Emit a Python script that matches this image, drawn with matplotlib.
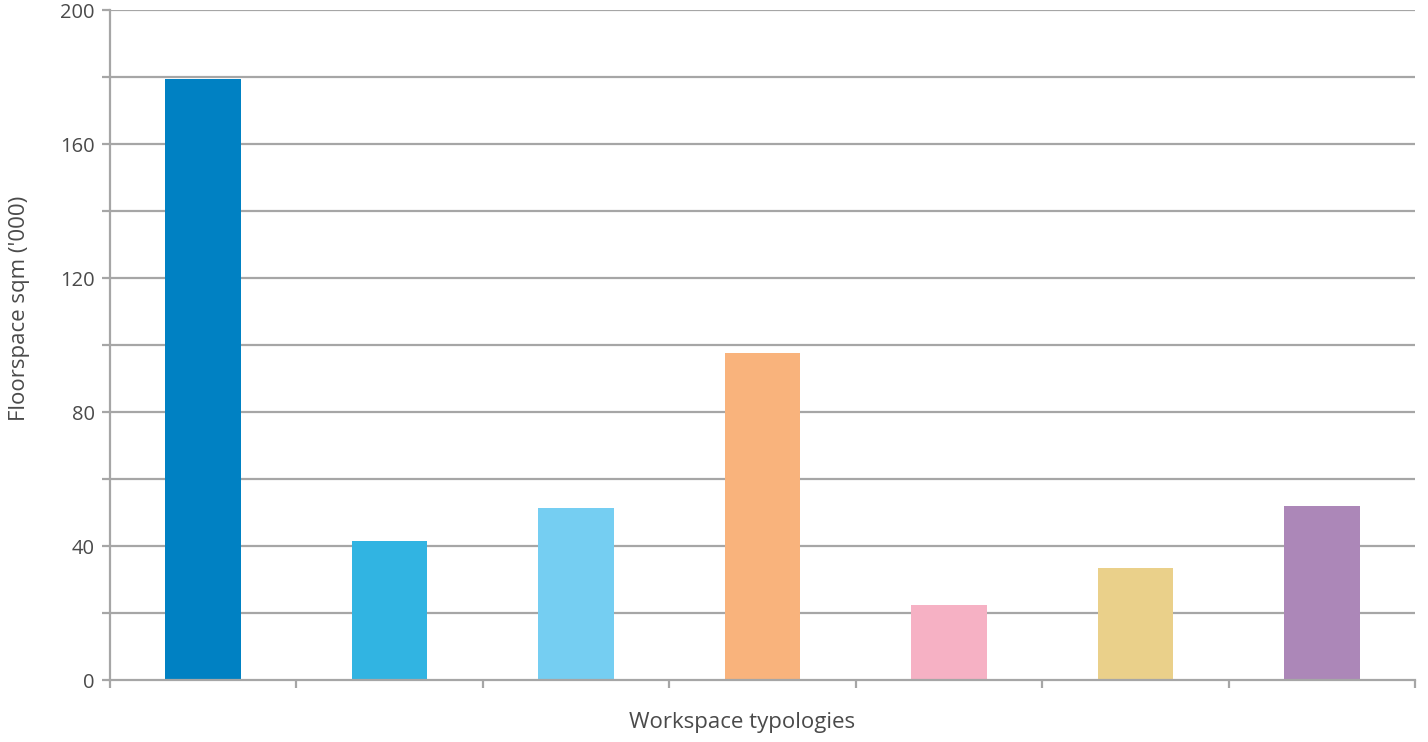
import matplotlib
matplotlib.use("Agg")
import matplotlib.pyplot as plt
import numpy as np

plt.rcParams['font.family'] = ['Open Sans', 'DejaVu Sans']

# Floorspace per workspace typology (thousand sqm)
values = [179.5, 41.5, 51.3, 97.6, 22.4, 33.4, 51.9]
colors = ['#0081C3', '#31B4E2', '#75CEF2', '#F9B37C', '#F6B1C4', '#EAD08A', '#AC87B8']
y_ticks = [0, 40, 80, 120, 160, 200]

fig = plt.figure(figsize=(14.28, 7.42), dpi=100)
ax = fig.add_axes([110 / 1428, 1 - 680 / 742, 1305 / 1428, 670 / 742])

x = np.arange(len(values))
ax.bar(x, values, width=0.405, color=colors, zorder=3)

ax.set_xlim(-0.5, len(values) - 0.5)
ax.set_ylim(0, 200)

grid_color = '#a6a6a6'
text_color = '#4a4a4a'
ax.set_yticks(y_ticks)
ax.set_yticklabels([str(v) for v in y_ticks])
ax.set_yticks(np.arange(20, 200, 40), minor=True)
for yv in np.arange(20, 201, 20):
    ax.axhline(yv, color=grid_color, lw=1.6, zorder=1)

ax.set_xticks(np.arange(-0.5, len(values)), labels=[''] * (len(values) + 1))

for s in ['top', 'right']:
    ax.spines[s].set_visible(False)
for s in ['left', 'bottom']:
    ax.spines[s].set_color(grid_color)
    ax.spines[s].set_linewidth(1.6)
    ax.spines[s].set_zorder(4)

ax.tick_params(axis='both', which='both', color=grid_color, width=1.6, length=6,
               labelsize=14.5, labelcolor=text_color, pad=5)

ax.set_ylabel("Floorspace sqm ('000)", fontsize=16, color=text_color, va='center')
ax.yaxis.set_label_coords(-0.069, 0.554)
ax.set_xlabel("Workspace typologies", fontsize=16, color=text_color, va='center')
ax.xaxis.set_label_coords(0.4843, -0.064)

fig.savefig('out.png', dpi=100, facecolor='white')
